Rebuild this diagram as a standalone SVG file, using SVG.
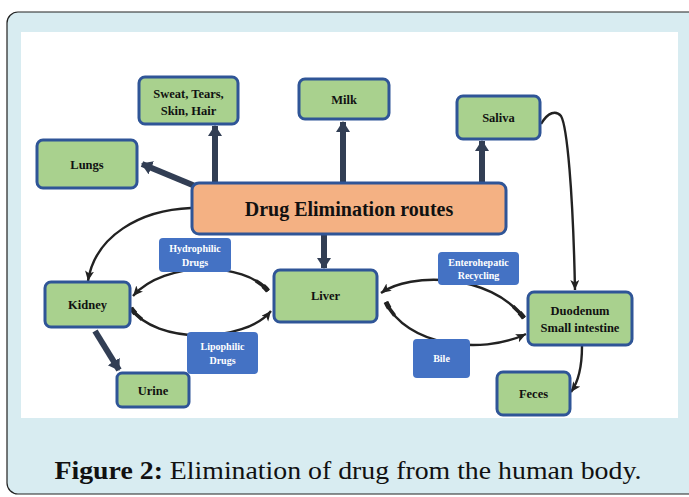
<svg xmlns="http://www.w3.org/2000/svg" width="689" height="497" viewBox="0 0 689 497">
<style>
.node rect{fill:#a9d18e;stroke:#2f5597;stroke-width:3}
.main rect{fill:#f4b183;stroke:#2f5597;stroke-width:3}
.lbl rect{fill:#4472c4;stroke:none}
.nt{font-family:"Liberation Serif","Times New Roman",serif;font-weight:bold;font-size:12.5px;fill:#111;text-anchor:middle}
.lt{font-family:"Liberation Serif","Times New Roman",serif;font-weight:bold;font-size:10px;fill:#fff;text-anchor:middle}
.thick{stroke:#323e54;stroke-width:6;fill:none}
.thin{stroke:#222;stroke-width:2.4;fill:none}
.tail{stroke:#222;stroke-width:5;fill:none;stroke-dasharray:7 2000}
.tail2{stroke:#222;stroke-width:3.6;fill:none;stroke-dasharray:16 2000}
</style>
<defs>
<marker id="ah" markerUnits="userSpaceOnUse" markerWidth="16" markerHeight="16" refX="10" refY="7" orient="auto">
<path d="M0,0 L11,7 L0,14 z" fill="#323e54"/>
</marker>
<marker id="at" markerUnits="userSpaceOnUse" markerWidth="12" markerHeight="10" refX="10" refY="4.5" orient="auto">
<path d="M0,0 L10,4.5 L0,9 L2.5,4.5 z" fill="#222"/>
</marker>
</defs>
<rect x="7" y="12" width="700" height="482" rx="11" fill="#d8ecf1" stroke="#222" stroke-width="1.2"/>
<rect x="21" y="32" width="657" height="386" fill="#fff"/>

<g id="connectors">
<line class="thick" x1="215" y1="183" x2="215" y2="126" marker-end="url(#ah)"/>
<line class="thick" x1="343" y1="183" x2="343" y2="122" marker-end="url(#ah)"/>
<line class="thick" x1="482" y1="183" x2="482" y2="141" marker-end="url(#ah)"/>
<line class="thick" x1="195" y1="186" x2="142" y2="164" marker-end="url(#ah)"/>
<line class="thick" x1="324" y1="235" x2="324" y2="268" marker-end="url(#ah)"/>
<line class="thick" x1="95" y1="331" x2="119" y2="370" marker-end="url(#ah)"/>
<path class="thin" d="M191,208 C140,210 95,236 88,281" marker-end="url(#at)"/>
<path class="thin" d="M541,124 C548,112 556,110 561,116 C567,126 573,190 575,290" marker-end="url(#at)"/>
<path class="thin" d="M582,346 C582,366 579,381 571,392" marker-end="url(#at)"/>
<path class="thin" d="M268,291 C245,262 165,260 133,296" marker-end="url(#at)"/>
<path class="tail" d="M268,291 C245,262 165,260 133,296"/>
<path class="tail2" d="M268,291 C245,262 165,260 133,296"/>
<path class="thin" d="M131,308 C155,345 245,343 271,311" marker-end="url(#at)"/>
<path class="tail" d="M131,308 C155,345 245,343 271,311"/>
<path class="tail2" d="M131,308 C155,345 245,343 271,311"/>
<path class="thin" d="M524,318 C490,273 410,272 381,293" marker-end="url(#at)"/>
<path class="tail" d="M524,318 C490,273 410,272 381,293"/>
<path class="tail2" d="M524,318 C490,273 410,272 381,293"/>
<path class="thin" d="M386,302 C405,345 480,356 526,334" marker-end="url(#at)"/>
<path class="tail" d="M386,302 C405,345 480,356 526,334"/>
<path class="tail2" d="M386,302 C405,345 480,356 526,334"/>
</g>

<g id="sweat" class="node"><rect x="139" y="77" width="99" height="47" rx="6"/><text class="nt" x="188.5" y="98">Sweat, Tears,</text><text class="nt" x="188.5" y="115">Skin, Hair</text></g>
<g id="milk" class="node"><rect x="299" y="79" width="90" height="40" rx="6"/><text class="nt" x="344" y="104">Milk</text></g>
<g id="saliva" class="node"><rect x="457" y="96" width="83" height="43" rx="6"/><text class="nt" x="498.5" y="122">Saliva</text></g>
<g id="lungs" class="node"><rect x="37" y="140" width="100" height="48" rx="6"/><text class="nt" x="87" y="169">Lungs</text></g>
<g id="drug" class="main"><rect x="192" y="183" width="314" height="51" rx="7"/><text class="nt" x="349" y="216" style="font-size:20px">Drug Elimination routes</text></g>
<g id="kidney" class="node"><rect x="45" y="282" width="85" height="45" rx="6"/><text class="nt" x="87.5" y="309">Kidney</text></g>
<g id="liver" class="node"><rect x="274" y="270" width="103" height="52" rx="6"/><text class="nt" x="325.5" y="300">Liver</text></g>
<g id="urine" class="node"><rect x="117" y="373" width="72" height="34" rx="5"/><text class="nt" x="153" y="395">Urine</text></g>
<g id="duodenum" class="node"><rect x="528" y="292" width="104" height="53" rx="6"/><text class="nt" x="580" y="315">Duodenum</text><text class="nt" x="580" y="332">Small intestine</text></g>
<g id="feces" class="node"><rect x="497" y="372" width="73" height="43" rx="6"/><text class="nt" x="533.5" y="398">Feces</text></g>

<g id="hydrophilic" class="lbl"><rect x="159" y="238" width="72" height="34" rx="4"/><text class="lt" x="195" y="252">Hydrophilic</text><text class="lt" x="195" y="266">Drugs</text></g>
<g id="lipophilic" class="lbl"><rect x="187" y="332" width="71" height="42" rx="4"/><text class="lt" x="222.5" y="350">Lipophilic</text><text class="lt" x="222.5" y="364">Drugs</text></g>
<g id="enterohepatic" class="lbl"><rect x="438" y="252" width="81" height="33" rx="4"/><text class="lt" x="478.5" y="266">Enterohepatic</text><text class="lt" x="478.5" y="279">Recycling</text></g>
<g id="bile" class="lbl"><rect x="413" y="339" width="57" height="39" rx="4"/><text class="lt" x="441.5" y="362">Bile</text></g>

<text x="348" y="479" text-anchor="middle" font-family="Liberation Serif, Times New Roman, serif" font-size="25" fill="#111" textLength="587" lengthAdjust="spacingAndGlyphs"><tspan font-weight="bold">Figure 2:</tspan> Elimination of drug from the human body.</text>
</svg>
